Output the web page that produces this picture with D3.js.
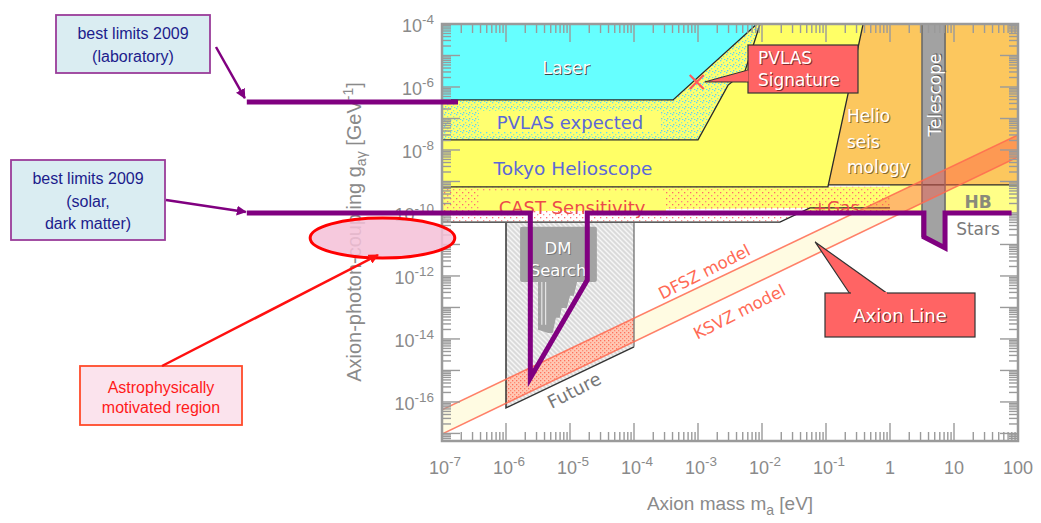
<!DOCTYPE html>
<html><head><meta charset="utf-8">
<script src="https://cdn.jsdelivr.net/npm/d3@7"></script>
<style>body{margin:0;background:#fff}svg{display:block}</style>
</head><body>
<svg id="chart" width="1041" height="523"></svg>
<script>
// ---- data: points are [log10(m_a / eV), log10(g_agamma / GeV^-1)] ----
const massRange = [-7, 2];
const couplingRange = [-4, -17.24];

const xTickExps = [-7, -6, -5, -4, -3, -2, -1, 0, 1, 2];
const xTickLabels = ["10|-7", "10|-6", "10|-5", "10|-4", "10|-3", "10|-2", "10|-1", "1", "10", "100"];
const yTickExps = [-4, -6, -8, -10, -12, -14, -16];
const yTickLabels = ["10|-4", "10|-6", "10|-8", "10|-10", "10|-12", "10|-14", "10|-16"];

const tokyoRegion = [[-7, -4], [-0.42, -4], [-0.97, -9.17], [-7, -9.17]];
const laserRegion = [[-7, -4], [-2.08, -4], [-3.39, -6.41], [-7, -6.41]];
const pvlasExpected = [[-7, -6.41], [-3.39, -6.41], [-2.08, -4], [-2.03, -4], [-2.27, -5.52], [-2.53, -5.94], [-3.0, -7.68], [-7, -7.68]];
const helioRegion = [[-0.42, -4], [2, -4], [2, -9.11], [-0.97, -9.11]];
const hbRegion = [[0, -9.11], [2, -9.11], [2, -10.0], [0, -10.0]];
const castRegion = [[-7, -9.17], [0, -9.17], [0, -9.94], [-7, -9.94]];
const castSensitivity = [[-7, -9.94], [-1.25, -9.84], [-1.72, -10.29], [-7, -10.29]];
const telescopeRegion = [[0.5, -4], [0.86, -4], [0.86, -11.11], [0.5, -10.76]];
const futureRegion = [[-6, -10.32], [-4, -10.32], [-4, -14.25], [-6, -16.19]];
const dmSearchBox = [[-5.78, -10.44], [-4.58, -12.19]];
const dmSearchLimit = [[-5.5, -12.19], [-5.5, -13.71], [-5.34, -13.81], [-5.27, -13.81], [-5.22, -13.33],
  [-5.16, -13.33], [-5.13, -13.02], [-5.05, -13.02], [-5.0, -12.63], [-4.94, -12.63], [-4.89, -12.19]];
const dfszLine = [[-7, -16.25], [2, -7.52]];
const ksvzLine = [[-7, -17.02], [2, -8.22]];
const labLimit2009 = [[-10.05, -6.48], [-6.75, -6.48]];
const solarDmLimit2009 = [[-10.05, -10.0], [-5.62, -10.0], [-5.62, -15.24], [-4.73, -12.13], [-4.73, -10.0],
  [0.53, -10.0], [0.53, -10.76], [0.86, -11.11], [0.86, -10.0], [1.9, -10.0]];
const pvlasSignature = [-3.02, -5.84];
const axionLinePointer = [-1.17, -10.92];
const astroRegion = {mass: [-9.06, -6.8], coupling: [-10.16, -11.43]};

// ---- scales ----
const svg = d3.select("#chart");
const x = d3.scaleLog().domain([10 ** massRange[0], 10 ** massRange[1]]).range([442, 1018]);
const y = d3.scaleLog().domain([10 ** couplingRange[0], 10 ** couplingRange[1]]).range([24, 441]);
const px = d => x(10 ** d[0]);
const py = d => y(10 ** d[1]);
const line = d3.line().x(px).y(py);
const poly = pts => line(pts) + "Z";
const [X0, X1] = x.range(), [Y0, Y1] = y.range();

const defs = svg.append("defs");
defs.append("clipPath").attr("id", "plotClip").append("rect")
  .attr("x", X0).attr("y", Y0).attr("width", X1 - X0).attr("height", Y1 - Y0);
defs.append("clipPath").attr("id", "futureClip").append("path").attr("d", poly(futureRegion));
defs.append("clipPath").attr("id", "upperClip").append("rect")
  .attr("x", X0).attr("y", Y0).attr("width", X1 - X0).attr("height", py([0, -10.0]) - Y0);

function dotPattern(id, bg, dots, size) {
  const p = defs.append("pattern").attr("id", id).attr("patternUnits", "userSpaceOnUse")
    .attr("width", size).attr("height", size);
  p.append("rect").attr("width", size).attr("height", size).attr("fill", bg);
  dots.forEach(([cx, cy, c]) => p.append("rect").attr("x", cx).attr("y", cy).attr("width", 1.3).attr("height", 1.3).attr("fill", c));
}
dotPattern("pvlasDots", "#ffff70", [[0, 0, "#55ddff"], [3, 2, "#88eebb"], [1, 4, "#66ccee"], [4, 5, "#55ddff"]], 6);
dotPattern("castDots", "#ffff70", [[0, 0, "#ff6a6a"], [3, 3, "#ff8080"]], 6);
dotPattern("castWhite", "#ffffff", [[0, 1, "#ff7070"], [3, 4, "#ff9090"]], 6);
dotPattern("bandDots", "#ffc8b4", [[0, 0, "#ff6f5a"], [2, 2, "#ff8a70"]], 4);
const hatch = defs.append("pattern").attr("id", "hatch").attr("patternUnits", "userSpaceOnUse")
  .attr("width", 5).attr("height", 5);
hatch.append("rect").attr("width", 5).attr("height", 5).attr("fill", "#dadada");
hatch.append("path").attr("d", "M-1,-1 L6,6 M-1,4 L1,6 M4,-1 L6,1").attr("stroke", "#f6f6f6").attr("stroke-width", 1.4);

const plot = svg.append("g").attr("clip-path", "url(#plotClip)");
plot.append("rect").attr("x", X0).attr("y", Y0).attr("width", X1 - X0).attr("height", Y1 - Y0).attr("fill", "#fff");

// axion model band
const band = [dfszLine[0], dfszLine[1], ksvzLine[1], ksvzLine[0]];
plot.append("path").attr("d", poly(band)).attr("fill", "#fffbe2");

// future dark-matter searches
plot.append("path").attr("d", poly(futureRegion)).attr("fill", "url(#hatch)");
plot.append("path").attr("d", poly(band)).attr("fill", "url(#bandDots)").attr("clip-path", "url(#futureClip)");
plot.append("path").attr("d", line([futureRegion[0], futureRegion[3], futureRegion[2]]))
  .attr("fill", "none").attr("stroke", "#333").attr("stroke-width", 1.5);
plot.append("path").attr("d", line([futureRegion[1], futureRegion[2]]))
  .attr("fill", "none").attr("stroke", "#666").attr("stroke-width", 1.2);

// DM search (microwave cavity) exclusion
plot.append("path").attr("d", poly(dmSearchLimit)).attr("fill", "#a3a3a3");
[-5.44, -5.38].forEach(m => plot.append("line").attr("x1", px([m, 0])).attr("x2", px([m, 0]))
  .attr("y1", py([0, -12.19])).attr("y2", py([0, -13.55])).attr("stroke", "#f2f2f2").attr("stroke-width", 1));
plot.append("rect").attr("x", px(dmSearchBox[0])).attr("y", py(dmSearchBox[0]))
  .attr("width", px(dmSearchBox[1]) - px(dmSearchBox[0])).attr("height", py(dmSearchBox[1]) - py(dmSearchBox[0]))
  .attr("rx", 2).attr("fill", "#a3a3a3");

// experimental and astrophysical exclusion regions
const regions = [
  [tokyoRegion, "#ffff66"], [laserRegion, "#66ffff"], [pvlasExpected, "url(#pvlasDots)"],
  [helioRegion, "#fcc75e"], [hbRegion, "#ffff88"], [castRegion, "url(#castDots)"],
  [castSensitivity, "url(#castWhite)"], [telescopeRegion, "#a2a2a2"]
];
regions.forEach(([pts, fill]) => plot.append("path").attr("d", poly(pts)).attr("fill", fill));
[
  line([[-7, -6.41], [-3.39, -6.41], [-2.08, -4]]),
  line([[-2.03, -4], [-2.27, -5.52], [-2.53, -5.94], [-3.0, -7.68], [-7, -7.68]]),
  line([[-0.42, -4], [-0.97, -9.17], [-7, -9.17]]),
  line([[-0.97, -9.11], [2, -9.11]]),
  line([[-7, -10.29], [-1.72, -10.29], [-1.25, -9.84], [0, -9.84]]),
].forEach(d => plot.append("path").attr("d", d).attr("fill", "none").attr("stroke", "#2a2a2a").attr("stroke-width", 1.3));
plot.append("path").attr("d", line([telescopeRegion[0], telescopeRegion[3]])).attr("stroke", "#666").attr("stroke-width", 1.5).attr("fill", "none");
plot.append("path").attr("d", line([telescopeRegion[1], telescopeRegion[2]])).attr("stroke", "#666").attr("stroke-width", 1.5).attr("fill", "none");

// model band over the excluded regions
plot.append("path").attr("d", poly(band)).attr("fill", "#ff5a46").attr("opacity", 0.42).attr("clip-path", "url(#upperClip)");
[dfszLine, ksvzLine].forEach(l => plot.append("path").attr("d", line(l))
  .attr("stroke", "#ff6a50").attr("stroke-width", 1.6).attr("opacity", 0.85).attr("fill", "none"));

// ---- in-plot labels ----
const F = "'DejaVu Sans', Verdana, sans-serif";
function shadowText(g, tx, ty, txt, size, opts = {}) {
  const mk = (dx, dy, fill) => g.append("text").attr("x", tx + dx).attr("y", ty + dy).text(txt)
    .attr("font-family", F).attr("font-size", size).attr("fill", fill)
    .attr("text-anchor", opts.anchor || "start").attr("transform", opts.rotate ? `rotate(${opts.rotate},${tx},${ty})` : null);
  mk(1, 1, opts.shadow || "#444");
  mk(0, 0, opts.fill || "#fff");
}
const labels = svg.append("g");
labels.append("rect").attr("x", 479).attr("y", 111).attr("width", 182).attr("height", 21).attr("fill", "#ffff70");
labels.append("rect").attr("x", 480).attr("y", 191).attr("width", 186).attr("height", 20).attr("fill", "#ffff70");
shadowText(labels, 566, 74, "Laser", 17.5, {anchor: "middle"});
labels.append("text").attr("x", 570).attr("y", 129).text("PVLAS expected").attr("font-family", F).attr("font-size", 18).attr("fill", "#5b68d8").attr("text-anchor", "middle");
labels.append("text").attr("x", 573).attr("y", 175).text("Tokyo Helioscope").attr("font-family", F).attr("font-size", 18.5).attr("fill", "#5b68d8").attr("text-anchor", "middle");
labels.append("text").attr("x", 572).attr("y", 214).text("CAST Sensitivity").attr("font-family", F).attr("font-size", 18).attr("fill", "#ec4b4b").attr("text-anchor", "middle");
labels.append("text").attr("x", 836).attr("y", 214).text("+Gas").attr("font-family", F).attr("font-size", 17).attr("fill", "#ec4b4b").attr("text-anchor", "middle");
shadowText(labels, 847, 122, "Helio", 17, {shadow: "#8a6a30"});
shadowText(labels, 847, 148, "seis", 17, {shadow: "#8a6a30"});
shadowText(labels, 847, 173, "mology", 17, {shadow: "#8a6a30"});
shadowText(labels, 941, 95, "Telescope", 17, {anchor: "middle", rotate: -90, shadow: "#555"});
labels.append("text").attr("x", 978).attr("y", 208).text("HB").attr("font-family", F).attr("font-size", 17).attr("font-weight", "bold").attr("fill", "#8a8a7a").attr("text-anchor", "middle");
labels.append("rect").attr("x", 949).attr("y", 218).attr("width", 58).attr("height", 22).attr("fill", "#fff");
labels.append("text").attr("x", 978).attr("y", 235).text("Stars").attr("font-family", F).attr("font-size", 17).attr("fill", "#7a7a7a").attr("text-anchor", "middle");
shadowText(labels, 558, 254, "DM", 16.5, {anchor: "middle", shadow: "#777"});
shadowText(labels, 558, 276, "Search", 16.5, {anchor: "middle", shadow: "#777"});
labels.append("text").attr("x", 577).attr("y", 396).text("Future").attr("font-family", F).attr("font-size", 18).attr("fill", "#777")
  .attr("text-anchor", "middle").attr("transform", "rotate(-27,577,396)");
labels.append("text").attr("x", 707).attr("y", 277).text("DFSZ model").attr("font-family", F).attr("font-size", 16.5).attr("fill", "#ff6a55")
  .attr("text-anchor", "middle").attr("transform", "rotate(-27,707,277)");
labels.append("text").attr("x", 742).attr("y", 317).text("KSVZ model").attr("font-family", F).attr("font-size", 16.5).attr("fill", "#ff6a55")
  .attr("text-anchor", "middle").attr("transform", "rotate(-27,742,317)");

// ---- axes: frame, log ticks on all four sides ----
const axis = svg.append("g").attr("stroke", "#9a9a9a").attr("stroke-width", 1.4);
function minorTicks(loExp, hiExp) {
  const t = [];
  for (let e = Math.floor(loExp); e < Math.ceil(hiExp); e++)
    for (let d = 1; d <= 9; d++) t.push({v: d * 10 ** e, major: d === 1});
  return t;
}
const xt = minorTicks(massRange[0], massRange[1]).concat([{v: 10 ** massRange[1], major: true}]);
xt.forEach(t => {
  const xx = x(t.v), len = t.major ? 18 : 9;
  axis.append("line").attr("x1", xx).attr("x2", xx).attr("y1", Y1).attr("y2", Y1 - len);
  axis.append("line").attr("x1", xx).attr("x2", xx).attr("y1", Y0).attr("y2", Y0 + len);
});
const yMin = 10 ** couplingRange[1];
minorTicks(-18, -4).concat([{v: 1e-4, major: true}]).filter(t => t.v >= yMin * 0.999).forEach(t => {
  const yy = y(t.v), len = t.major ? 18 : 9;
  axis.append("line").attr("x1", X0).attr("x2", X0 + len).attr("y1", yy).attr("y2", yy);
  axis.append("line").attr("x1", X1).attr("x2", X1 - len).attr("y1", yy).attr("y2", yy);
});
axis.append("rect").attr("x", X0).attr("y", Y0).attr("width", X1 - X0).attr("height", Y1 - Y0)
  .attr("fill", "none").attr("stroke-width", 2.5);

const TF = "'Liberation Sans', Arial, sans-serif";
function powLabel(g, txt, tx, ty, anchor) {
  const [base, sup] = txt.split("|");
  const t = g.append("text").attr("x", tx).attr("y", ty).attr("text-anchor", anchor)
    .attr("font-family", TF).attr("font-size", 18).attr("fill", "#8a8a8a");
  t.append("tspan").text(base);
  if (sup) t.append("tspan").text(sup).attr("font-size", 13.5).attr("dy", -8);
}
const tickLabels = svg.append("g");
xTickExps.forEach((e, i) => powLabel(tickLabels, xTickLabels[i], x(10 ** e) + (xTickLabels[i].includes("|") ? 3 : 0), 474, "middle"));
yTickExps.forEach((e, i) => powLabel(tickLabels, yTickLabels[i], 434, y(10 ** e) + 8, "end"));

const yTitle = svg.append("text").attr("transform", "translate(361,232) rotate(-90)").attr("text-anchor", "middle")
  .attr("font-family", TF).attr("font-size", 20).attr("fill", "#8a8a8a");
yTitle.append("tspan").text("Axion-photon-coupling g");
yTitle.append("tspan").text("aγ").attr("font-size", 14).attr("dy", 5);
yTitle.append("tspan").text(" [GeV").attr("font-size", 20).attr("dy", -5);
yTitle.append("tspan").text("-1").attr("font-size", 14).attr("dy", -8);
yTitle.append("tspan").text("]").attr("font-size", 20).attr("dy", 8);
const xTitle = svg.append("text").attr("x", 730).attr("y", 510).attr("text-anchor", "middle")
  .attr("font-family", TF).attr("font-size", 19).attr("fill", "#8a8a8a");
xTitle.append("tspan").text("Axion mass m");
xTitle.append("tspan").text("a").attr("font-size", 14).attr("dy", 5);
xTitle.append("tspan").text(" [eV]").attr("dy", -5);

// ---- callouts ----
const callouts = svg.append("g");
const sig = [px(pvlasSignature), py(pvlasSignature)];
callouts.append("path").attr("d", `M748,70 L${sig[0] + 8},${sig[1]} L748,82 Z`).attr("fill", "#ff6464").attr("stroke", "#333").attr("stroke-width", 1);
callouts.append("rect").attr("x", 748).attr("y", 45).attr("width", 110).attr("height", 48).attr("fill", "#ff6464").attr("stroke", "#333").attr("stroke-width", 1.2);
callouts.append("path").attr("d", "M747.5,70.5 L747.5,81.5").attr("stroke", "#ff6464").attr("stroke-width", 2);
callouts.append("path").attr("d", `M${sig[0] - 7},${sig[1] - 7} L${sig[0] + 7},${sig[1] + 7} M${sig[0] - 7},${sig[1] + 7} L${sig[0] + 7},${sig[1] - 7}`)
  .attr("stroke", "#ff5a5a").attr("stroke-width", 2.2);
shadowText(callouts, 758, 64, "PVLAS", 17, {shadow: "#8a2a2a"});
shadowText(callouts, 758, 86, "Signature", 17, {shadow: "#8a2a2a"});

const alp = [px(axionLinePointer), py(axionLinePointer)];
callouts.append("path").attr("d", `M850,294 L${alp[0]},${alp[1]} L888,294 Z`).attr("fill", "#ff6464").attr("stroke", "#333").attr("stroke-width", 1.2);
callouts.append("rect").attr("x", 825).attr("y", 293).attr("width", 150).attr("height", 44).attr("fill", "#ff6464").attr("stroke", "#333").attr("stroke-width", 1.2);
callouts.append("path").attr("d", "M851,293 L887,293").attr("stroke", "#ff6464").attr("stroke-width", 2);
shadowText(callouts, 900, 322, "Axion Line", 18, {anchor: "middle", shadow: "#7a2a2a"});

// ---- best limits 2009 ----
const purple = "#800080";
defs.append("marker").attr("id", "purpleHead").attr("viewBox", "0 0 10 10").attr("refX", 9).attr("refY", 5)
  .attr("markerWidth", 4).attr("markerHeight", 4).attr("orient", "auto")
  .append("path").attr("d", "M0,0 L10,5 L0,10 Z").attr("fill", purple);
defs.append("marker").attr("id", "redHead").attr("viewBox", "0 0 10 10").attr("refX", 9).attr("refY", 5)
  .attr("markerWidth", 4).attr("markerHeight", 4).attr("orient", "auto")
  .append("path").attr("d", "M0,0 L10,5 L0,10 Z").attr("fill", "#ff1010");

[labLimit2009, solarDmLimit2009].forEach(l => svg.append("path").attr("d", line(l)).attr("fill", "none")
  .attr("stroke", purple).attr("stroke-width", 5).attr("stroke-linejoin", "miter"));

// astrophysically motivated region
const ex0 = px([astroRegion.mass[0], 0]), ex1 = px([astroRegion.mass[1], 0]);
const ey0 = py([0, astroRegion.coupling[0]]), ey1 = py([0, astroRegion.coupling[1]]);
svg.append("ellipse").attr("cx", (ex0 + ex1) / 2).attr("cy", (ey0 + ey1) / 2).attr("rx", (ex1 - ex0) / 2).attr("ry", (ey1 - ey0) / 2)
  .attr("fill", "#f5bfd7").attr("fill-opacity", 0.85).attr("stroke", "#ff0000").attr("stroke-width", 3);

const notes = svg.append("g").attr("font-family", TF).attr("font-size", 16).attr("text-anchor", "middle");
function noteBox(bx, by, w, h, lines, fill, stroke, color, lineY) {
  notes.append("rect").attr("x", bx).attr("y", by).attr("width", w).attr("height", h)
    .attr("fill", fill).attr("stroke", stroke).attr("stroke-width", 1.8);
  lines.forEach((t, i) => notes.append("text").attr("x", bx + w / 2).attr("y", lineY[i]).text(t).attr("fill", color));
}
noteBox(56, 15, 154, 58, ["best limits 2009", "(laboratory)"], "#daedf2", "#9a3c9a", "#1c1c8c", [39, 62]);
noteBox(11, 160, 154, 80, ["best limits 2009", "(solar,", "dark matter)"], "#daedf2", "#9a3c9a", "#1c1c8c", [184, 207, 229]);
noteBox(80, 366, 162, 59, ["Astrophysically", "motivated region"], "#fbe3ed", "#ff4a2a", "#ff1a1a", [393, 413]);

notes.append("line").attr("x1", 216).attr("y1", 47).attr("x2", px(labLimit2009[0]) - 2).attr("y2", py(labLimit2009[0]) - 4)
  .attr("stroke", purple).attr("stroke-width", 2.5).attr("marker-end", "url(#purpleHead)");
notes.append("line").attr("x1", 166).attr("y1", 200).attr("x2", px(solarDmLimit2009[0]) - 1).attr("y2", py(solarDmLimit2009[0]) - 1)
  .attr("stroke", purple).attr("stroke-width", 2.5).attr("marker-end", "url(#purpleHead)");
notes.append("line").attr("x1", 162).attr("y1", 366).attr("x2", 378).attr("y2", 255)
  .attr("stroke", "#ff1010").attr("stroke-width", 2.5).attr("marker-end", "url(#redHead)");
</script>
</body></html>
